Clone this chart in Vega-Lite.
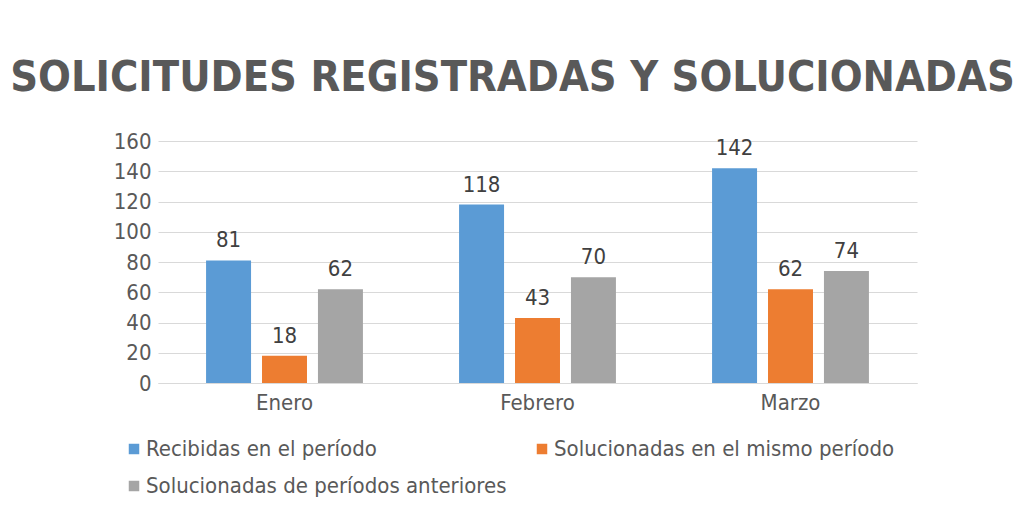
{
  "$schema": "https://vega.github.io/schema/vega-lite/v6.json",
  "width": 759,
  "height": 242,
  "autosize": {"type": "none"},
  "padding": {"left": 158, "top": 141, "right": 106, "bottom": 131},
  "background": "white",
  "config": {
    "view": {"stroke": null},
    "font": "DejaVu Sans Condensed"
  },
  "title": {
    "text": "SOLICITUDES REGISTRADAS Y SOLUCIONADAS",
    "font": "DejaVu Sans Condensed",
    "fontSize": 43,
    "fontWeight": "bold",
    "color": "#595959",
    "anchor": "middle",
    "dx": -25,
    "offset": 30
  },
  "data": {
    "values": [
      {"mes": "Enero", "serie": "Recibidas en el período", "valor": 81},
      {"mes": "Enero", "serie": "Solucionadas en el mismo período", "valor": 18},
      {"mes": "Enero", "serie": "Solucionadas de períodos anteriores", "valor": 62},
      {"mes": "Febrero", "serie": "Recibidas en el período", "valor": 118},
      {"mes": "Febrero", "serie": "Solucionadas en el mismo período", "valor": 43},
      {"mes": "Febrero", "serie": "Solucionadas de períodos anteriores", "valor": 70},
      {"mes": "Marzo", "serie": "Recibidas en el período", "valor": 142},
      {"mes": "Marzo", "serie": "Solucionadas en el mismo período", "valor": 62},
      {"mes": "Marzo", "serie": "Solucionadas de períodos anteriores", "valor": 74}
    ]
  },
  "encoding": {
    "x": {
      "field": "mes",
      "type": "nominal",
      "sort": ["Enero", "Febrero", "Marzo"],
      "scale": {"paddingInner": 0.38, "paddingOuter": 0.19},
      "axis": {
        "title": null,
        "labelAngle": 0,
        "labelFont": "DejaVu Sans Condensed",
        "labelFontSize": 22,
        "labelColor": "#595959",
        "labelPadding": 9,
        "ticks": false,
        "domainColor": "#D9D9D9",
        "domainWidth": 1
      }
    },
    "xOffset": {
      "field": "serie",
      "type": "nominal",
      "sort": ["Recibidas en el período", "Solucionadas en el mismo período", "Solucionadas de períodos anteriores"],
      "scale": {"paddingInner": 0.196, "paddingOuter": 0}
    },
    "y": {
      "field": "valor",
      "type": "quantitative",
      "scale": {"domain": [0, 160], "nice": false},
      "axis": {
        "title": null,
        "values": [0, 20, 40, 60, 80, 100, 120, 140, 160],
        "labelFont": "DejaVu Sans Condensed",
        "labelFontSize": 22,
        "labelColor": "#595959",
        "labelPadding": 7,
        "ticks": false,
        "domain": false,
        "gridColor": "#D9D9D9",
        "gridWidth": 1
      }
    }
  },
  "layer": [
    {
      "mark": {"type": "bar"},
      "encoding": {
        "color": {
          "field": "serie",
          "type": "nominal",
          "sort": ["Recibidas en el período", "Solucionadas en el mismo período", "Solucionadas de períodos anteriores"],
          "scale": {
            "domain": ["Recibidas en el período", "Solucionadas en el mismo período", "Solucionadas de períodos anteriores"],
            "range": ["#5B9BD5", "#ED7D31", "#A5A5A5"]
          },
          "legend": {
            "title": null,
            "orient": "none",
            "legendX": -35,
            "legendY": 297,
            "direction": "horizontal",
            "columns": 2,
            "columnPadding": 24,
            "rowPadding": 15,
            "symbolType": "square",
            "symbolSize": 110,
            "symbolStrokeWidth": 0,
            "labelOffset": 1,
            "labelFont": "DejaVu Sans Condensed",
            "labelFontSize": 22,
            "labelColor": "#595959",
            "labelLimit": 0
          }
        }
      }
    },
    {
      "mark": {
        "type": "text",
        "dy": -13,
        "baseline": "alphabetic",
        "font": "DejaVu Sans Condensed",
        "fontSize": 22,
        "color": "#404040"
      },
      "encoding": {
        "text": {"field": "valor", "type": "quantitative"}
      }
    }
  ]
}
